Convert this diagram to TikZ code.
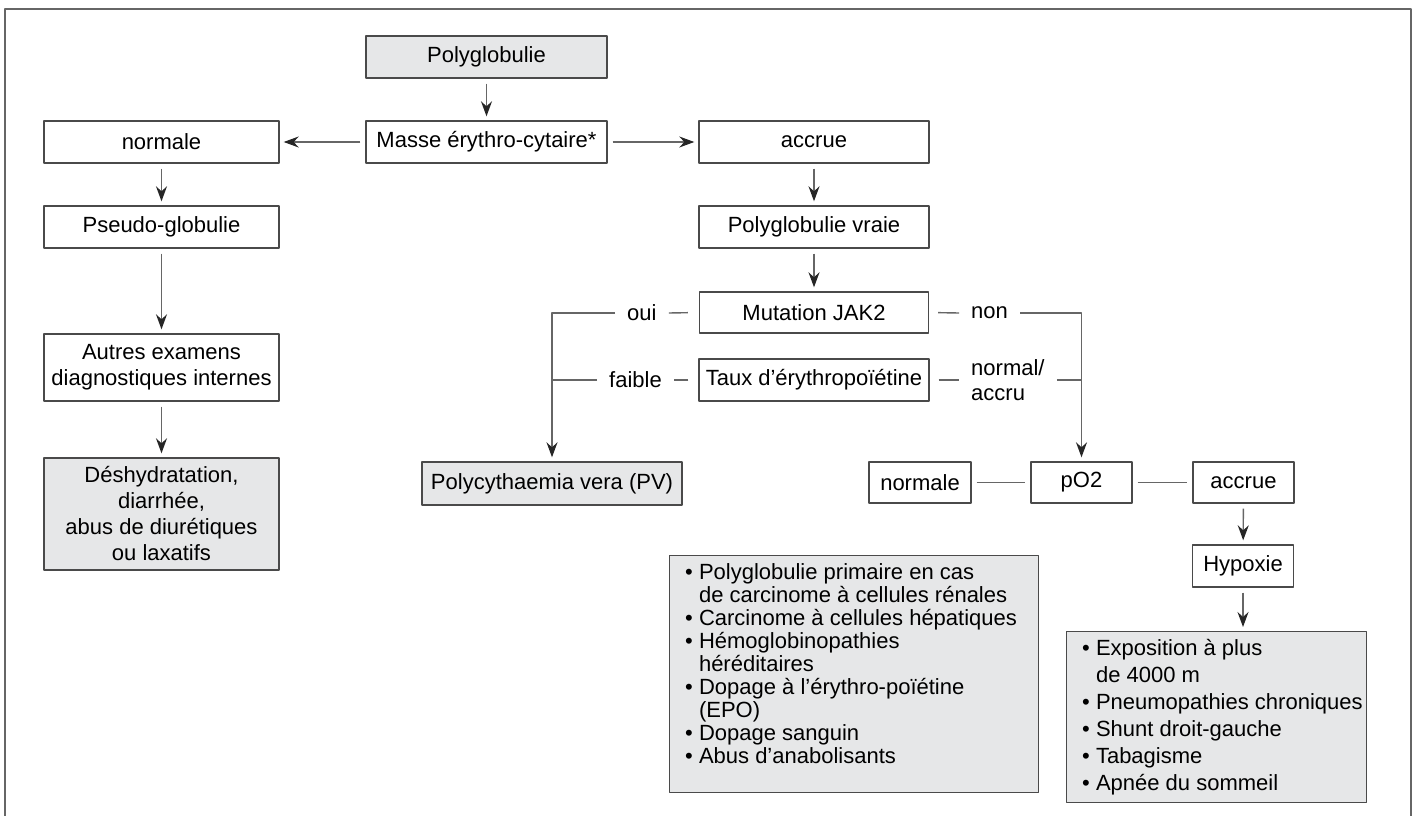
\documentclass[tikz,border=0pt]{standalone}
\usepackage{fontspec}
\setmainfont{Liberation Sans}
\usetikzlibrary{arrows.meta}
\definecolor{boxgray}{HTML}{E6E7E8}
\definecolor{edge}{HTML}{4A4A4A}
\definecolor{wire}{HTML}{666666}
\tikzset{
  every picture/.style={line join=round, >={Stealth[length=15pt,width=11pt,inset=5pt,color=black!85]}},
  box/.style={draw=edge, line width=1.4pt, minimum height=42pt, inner sep=0pt,
    font=\fontsize{22}{26}\selectfont, align=center},
  gbox/.style={box, fill=boxgray},
  lst/.style={inner sep=0pt, align=left, font=\fontsize{22}{23.1}\selectfont},
  lbl/.style={inner xsep=12pt, inner ysep=0pt, anchor=west, font=\fontsize{22}{25}\selectfont},
  conn/.style={draw=wire, line width=1.4pt},
  arr/.style={conn, ->, shorten >=4pt, shorten <=5pt},
}
\newcommand{\bul}{\textbullet\ }
\newcommand{\ind}{\phantom{\textbullet\ }}

\begin{document}
\begin{tikzpicture}[x=1pt,y=-1pt]
\useasboundingbox (0,0) rectangle (1416,816);
\draw[draw=black!60, line width=2pt] (5,816) -- (5,9) -- (1411,9) -- (1411,816);

% top
\node[gbox, minimum width=241pt] (poly) at (486.5,57) {Polyglobulie};
\node[box, minimum width=241pt] (masse) at (486.5,142) {Masse érythro-cytaire*};
\node[box, minimum width=235pt] (normL) at (161.5,142) {normale};
\node[box, minimum width=230pt] (accr) at (814,142) {accrue};

% left column
\node[box, minimum width=235pt] (pseudo) at (161.5,227) {Pseudo-globulie};
\node[box, minimum width=235pt, minimum height=67pt] (autres) at (161.5,367.5) {Autres examens\\diagnostiques internes};
\node[gbox, minimum width=235pt, minimum height=112pt] (desh) at (161.5,514) {Déshydratation,\\diarrhée,\\abus de diurétiques\\ou laxatifs};

% right column
\node[box, minimum width=230pt] (vraie) at (814,227) {Polyglobulie vraie};
\node[box, minimum width=229pt, minimum height=41pt] (jak) at (814,312.5) {Mutation JAK2};
\node[box, minimum width=230pt] (epo) at (814,380) {Taux d’érythropoïétine};
\node[gbox, minimum width=260pt, minimum height=43pt] (pv) at (552,483.5) {Polycythaemia vera (PV)};
\node[box, minimum width=102pt, minimum height=41pt] (normP) at (920,482.5) {normale};
\node[box, minimum width=101pt, minimum height=41pt] (po2) at (1081.5,482.5) {pO2};
\node[box, minimum width=101pt, minimum height=41pt] (accP) at (1243.5,482.5) {accrue};
\node[box, minimum width=101pt] (hyp) at (1243,566) {Hypoxie};

% lists
\node[gbox, minimum width=369pt, minimum height=237pt, anchor=north west] (boxM) at (669,555) {};
\node[lst, anchor=north west] (listM) at (685,563) {\bul Polyglobulie primaire en cas\\
\ind de carcinome à cellules rénales\\
\bul Carcinome à cellules hépatiques\\
\bul Hémoglobinopathies\\
\ind héréditaires\\
\bul Dopage à l’érythro-poïétine\\
\ind (EPO)\\
\bul Dopage sanguin\\
\bul Abus d’anabolisants};
\node[gbox, minimum width=300pt, minimum height=171pt, anchor=north west] (boxR) at (1066,631) {};
\node[lst, anchor=north west, font=\fontsize{22}{27}\selectfont] (listR) at (1082,639) {\bul Exposition à plus\\
\ind de 4000 m\\
\bul Pneumopathies chroniques\\
\bul Shunt droit-gauche\\
\bul Tabagisme\\
\bul Apnée du sommeil};

% branch labels
\node[lbl] (oui) at (615,313) {oui};
\node[lbl] (faible) at (597,380) {faible};
\node[lbl] (non) at (959,313) {non};
\node[lbl, align=left] (normacc) at (959,380) {normal/\\accru};

% arrows
\draw[arr] (poly) -- (masse);
\draw[arr] (masse) -- (normL);
\draw[arr] (masse) -- (accr);
\draw[arr] (normL) -- (pseudo);
\draw[arr] (pseudo) -- (autres);
\draw[arr] (autres) -- (desh);
\draw[arr] (accr) -- (vraie);
\draw[arr] (vraie) -- (jak);

\draw[conn, shorten <=11pt] (jak.west) -- (oui.east);
\draw[arr, shorten <=0pt] (oui.west) -| (pv.north);
\draw[conn, shorten <=10pt] (epo.west) -- (faible.east);
\draw[conn] (faible.west) -- (faible.west -| pv.north);
\draw[conn, shorten <=9pt] (jak.east) -- (non.west);
\draw[arr, shorten <=0pt] (non.east) -| (po2.north);
\draw[conn, shorten <=9pt] (epo.east) -- (normacc.west);
\draw[conn] (normacc.east) -- (normacc.east -| po2.north);

\draw[conn, shorten <=5pt, shorten >=5pt] (normP) -- (po2);
\draw[conn, shorten <=5pt, shorten >=5pt] (po2) -- (accP);
\draw[arr] (accP) -- (hyp);
\draw[arr] (hyp.south) -- (hyp.south |- boxR.north);
\end{tikzpicture}
\end{document}
